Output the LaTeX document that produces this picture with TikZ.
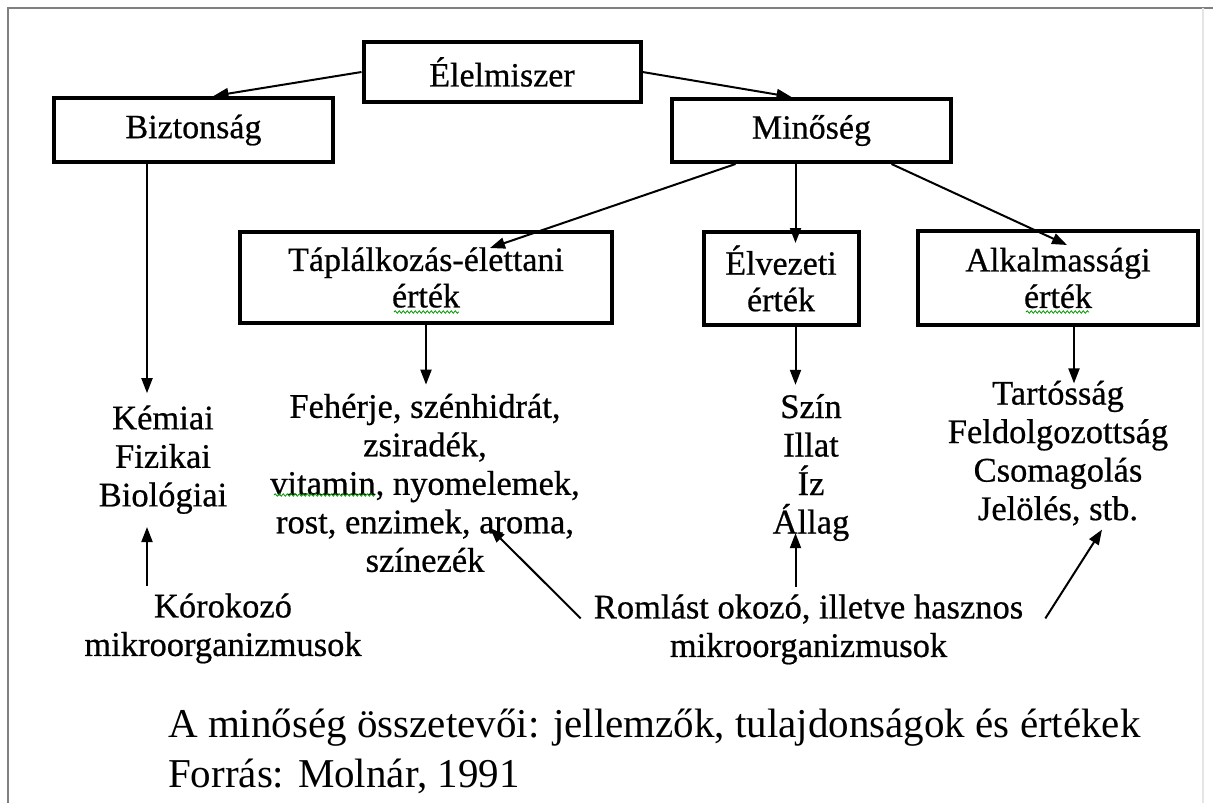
\documentclass[tikz,border=0pt]{standalone}
\usepackage{fontspec}
\setmainfont{Liberation Serif}[FakeBold=0.6]
\newfontfamily\captionserif{Liberation Serif}
\usetikzlibrary{positioning,calc,arrows.meta,decorations.pathmorphing}
\tikzset{
	quality box/.style={
		rectangle,
		draw,
		line width=4pt,
		align=center,
		inner sep=0pt,
		font=\fontsize{34}{36.5}\selectfont
	},
	item list/.style={
		align=center,
		inner sep=2pt,
		font=\fontsize{34.5}{38.5}\selectfont
	},
	link arrow/.style={
		line width=2pt,
		-{Triangle[length=15pt,width=11pt]}
	},
	spell mark/.style={
		green!60!black,
		line width=0.8pt,
		decorate,
		decoration={snake,amplitude=1.2pt,segment length=4pt}
	}
}

\begin{document}
\begin{tikzpicture}[
		x=1pt,y=-1pt,
		frame line/.style={gray,line width=1.5pt},
		caption text/.style={anchor=base west,inner sep=0pt,font=\captionserif\fontsize{41}{45}\selectfont}
		]
		\fill[white] (0,0) rectangle (1213,803);
		\useasboundingbox (0,0) rectangle (1213,803);
		\draw[frame line] (8,803) -- (8,8) -- (1213,8);
		\draw[frame line,gray!20] (1203,8) -- (1203,803);

		% boxes
		\node[quality box,minimum width=277pt,minimum height=60pt] (elelmiszer) at (502,72) {Élelmiszer};
		\node[quality box,minimum width=279pt,minimum height=64pt] (biztonsag) at (193.5,130) {Biztonság};
		\node[quality box,minimum width=279pt,minimum height=63pt] (minoseg) at (811.5,130.5) {Minőség};
		\node[quality box,minimum width=372pt,minimum height=91pt] (taplalkozas) at (426,277.5) {Táplálkozás-élettani\\érték};
		\node[quality box,minimum width=155pt,minimum height=93pt] (elvezeti) at (781,278.5) {Élvezeti\\érték};
		\node[quality box,minimum width=280pt,minimum height=94pt] (alkalmassagi) at (1058,278) {Alkalmassági\\érték};

		% lists under the boxes
		\node[item list] (kemiai) at (163,459.6) {Kémiai\\Fizikai\\Biológiai};
		\node[item list] (feherje) at (425,483) {Fehérje, szénhidrát,\\zsiradék,\\vitamin, nyomelemek,\\rost, enzimek, aroma,\\színezék};
		\node[item list] (szin) at (811,467.5) {Szín\\Illat\\Íz\\Állag};
		\node[item list] (tartossag) at (1058,453) {Tartósság\\Feldolgozottság\\Csomagolás\\Jelölés, stb.};
		\node[item list] (korokozo) at (223,628.4) {Kórokozó\\mikroorganizmusok};
		\node[item list] (romlast) at (808.5,629.4) {Romlást okozó, illetve hasznos\\mikroorganizmusok};

		\node[caption text] (caption) at (168,737) {A minőség összetevői: jellemzők, tulajdonságok és értékek};
		\node[caption text] (source) at (168,787) {Forrás: Molnár, 1991};

		% arrows
		\draw[link arrow] (elelmiszer.west) -- ([xshift=20pt]biztonsag.north);
		\draw[link arrow] (elelmiszer.east) -- ([xshift=-20pt]minoseg.north);
		\draw[link arrow] ([xshift=-76pt]minoseg.south) -- ([xshift=64pt,yshift=-18pt]taplalkozas.north);
		\draw[link arrow] ([xshift=-16pt]minoseg.south) -- ([xshift=14.5pt,yshift=-13pt]elvezeti.north);
		\draw[link arrow] ([xshift=80pt]minoseg.south) -- ([xshift=9pt,yshift=-16pt]alkalmassagi.north);
		\draw[link arrow] ([xshift=-46.5pt]biztonsag.south) -- ([xshift=-16pt,yshift=10pt]kemiai.north);
		\draw[link arrow] (taplalkozas.south) -- ([xshift=1pt,yshift=7pt]feherje.north);
		\draw[link arrow] ([xshift=14.5pt]elvezeti.south) -- ([xshift=-15.5pt,yshift=7pt]szin.north);
		\draw[link arrow] ([xshift=16pt]alkalmassagi.south) -- ([xshift=16pt,yshift=-5pt]tartossag.north);
		\draw[link arrow] ([xshift=-76pt,yshift=5pt]korokozo.north) -- ([xshift=-16pt,yshift=-11pt]kemiai.south);
		\draw[link arrow] ([xshift=-13pt,yshift=5pt]romlast.north) -- ([xshift=-15.5pt,yshift=10pt]szin.south);
		\draw[link arrow] ([xshift=-11pt,yshift=11pt]romlast.west) -- ([xshift=65pt,yshift=-45pt]feherje.center);
		\draw[link arrow] ([xshift=20pt,yshift=11pt]romlast.east) -- ([xshift=44pt,yshift=-2pt]tartossag.south);

		% spell checker marks
		\draw[spell mark] (394,312) -- (459,312);
		\draw[spell mark] (1026,312) -- (1089,312);
		\draw[spell mark] (274,495) -- (375,495);
	\end{tikzpicture}
\end{document}
